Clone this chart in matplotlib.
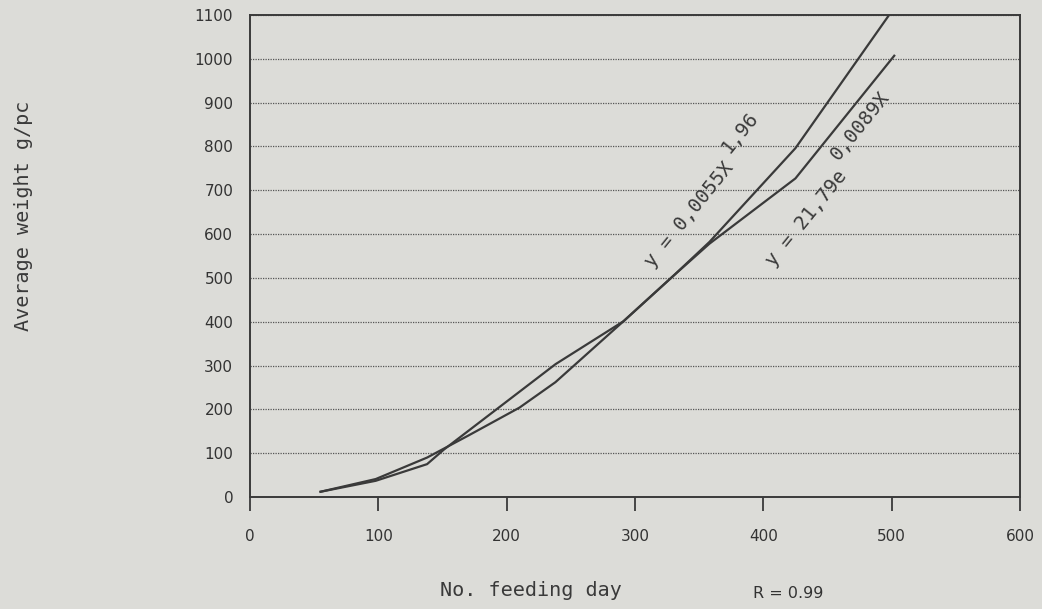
import matplotlib
matplotlib.use("Agg")
import matplotlib.pyplot as plt

# ---------------- data ----------------
# power fit curve (y = 0,0055X^1,96)
days_a = [55, 98, 138, 170, 210, 238, 291, 330, 358, 425, 498]
weight_a = [12, 41, 90, 140, 204, 262, 401, 505, 582, 796, 1100]

# exponential fit curve (y = 21,79e^0,0089X)
days_b = [55, 98, 138, 151, 238, 291, 330, 358, 425, 502]
weight_b = [12, 37, 75, 108, 303, 401, 505, 578, 727, 1007]

x_ticks = [0, 100, 200, 300, 400, 500, 600]
y_ticks = list(range(0, 1200, 100))

paper = '#dcdcd8'
ink = '#3a3a3a'
mono = 'DejaVu Sans Mono'

fig = plt.figure(figsize=(10.42, 6.09), dpi=100, facecolor=paper)
ax = fig.add_axes([0.2399, 0.1839, 0.739, 0.7915], facecolor=paper)

ax.plot(days_a, weight_a, color=ink, linewidth=1.6)
ax.plot(days_b, weight_b, color=ink, linewidth=1.6)

ax.set_xlim(0, 600)
ax.set_ylim(0, 1100)
ax.set_xticks(x_ticks)
ax.set_yticks(y_ticks)
ax.set_xticklabels([str(t) for t in x_ticks], fontsize=11, color='#333333')
ax.set_yticklabels([str(t) for t in y_ticks], fontsize=11, color='#333333')
ax.tick_params(axis='x', direction='out', length=10, width=1.3, color=ink, pad=13)
ax.tick_params(axis='y', length=0, pad=12)

ax.yaxis.grid(True, linestyle=(0, (1, 1)), color='#555555', linewidth=0.9)
ax.set_axisbelow(True)
for s in ax.spines.values():
    s.set_color(ink)
    s.set_linewidth(1.4)

# equation labels along the curves
ax.text(342, 644, "y = 0,0055X", fontsize=14, family=mono, color=ink,
        rotation=51, ha='center', va='center', rotation_mode='anchor')
ax.text(382, 831, "1,96", fontsize=14, family=mono, color=ink,
        rotation=51, ha='center', va='center', rotation_mode='anchor')
ax.text(434, 637, "y = 21,79e", fontsize=14, family=mono, color=ink,
        rotation=51, ha='center', va='center', rotation_mode='anchor')
ax.text(475, 847, "0,0089X", fontsize=14, family=mono, color=ink,
        rotation=51, ha='center', va='center', rotation_mode='anchor')

fig.text(531 / 1042, 1 - 591 / 609, "No. feeding day", fontsize=14.5, family=mono,
         color=ink, ha='center', va='center')
fig.text(24 / 1042, 1 - 216 / 609, "Average weight g/pc", fontsize=14.5, family=mono,
         color=ink, ha='center', va='center', rotation=90)
fig.text(788 / 1042, 1 - 593 / 609, "R = 0.99", fontsize=11.5, color='#333333',
         ha='center', va='center')

fig.savefig("out.png", dpi=100, facecolor=paper)
